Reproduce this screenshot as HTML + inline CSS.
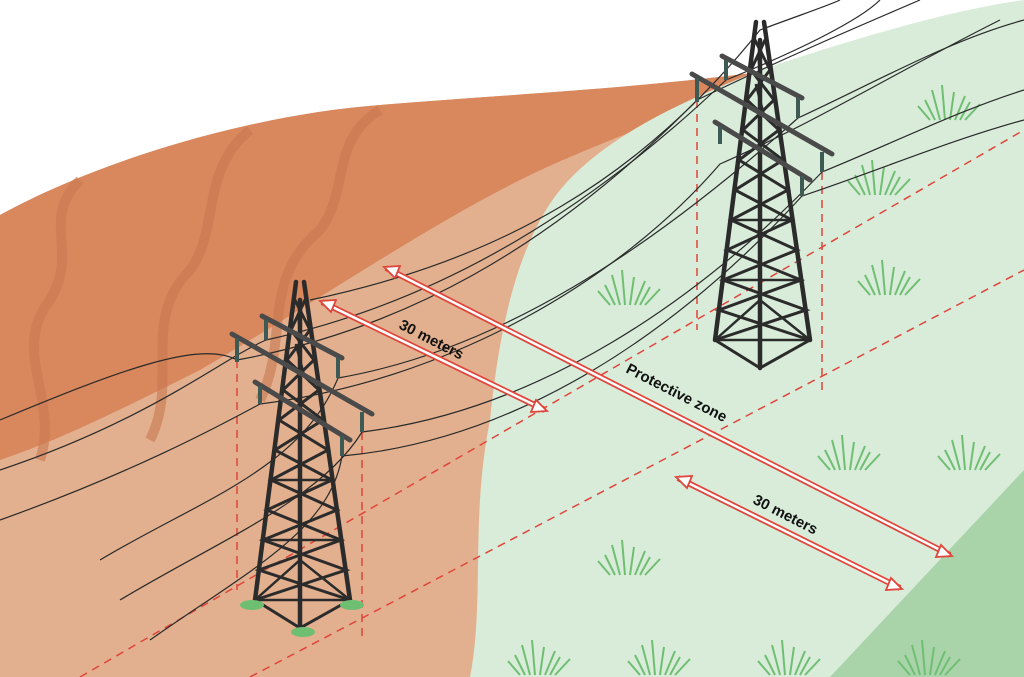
<!DOCTYPE html>
<html><head><meta charset="utf-8"><style>
html,body{margin:0;padding:0;background:#fff}
svg{display:block}
text{font-family:"Liberation Sans",sans-serif;font-weight:bold;font-size:15px;fill:#111}
</style></head><body>
<svg width="1024" height="677" viewBox="0 0 1024 677" xmlns="http://www.w3.org/2000/svg">
<defs>
<g id="tower">
 <g stroke="#2b2b2b" fill="none" stroke-linecap="round">
  <path d="M296,282 L255,600 M304,282 L350,600 M300,300 L300,628" stroke-width="4.5"/>
  <path d="M255,600 L300,628 L350,600" stroke-width="3"/>
  <path d="M295,300 L310,330 L287,360 L319,390 L279,420 L328,450 L271,480 L337,510 L263,540 L346,570 L255,600 M305,300 L291,330 L314,360 L283,390 L323,420 L275,450 L332,480 L267,510 L341,540 L259,570 L350,600" stroke-width="3"/>
  <path d="M300,480 L271,480 M300,480 L332,480 M300,540 L263,540 M300,540 L341,540 M300,600 L255,600 M300,600 L350,600 M255,600 L300,560 L350,600 M298,315 L302,345 M296,345 L304,375" stroke-width="2.5"/>
  <path d="M262,316 L342,358 M232,334 L372,414 M255,382 L350,440" stroke="#4a4a4a" stroke-width="5"/>
 </g>
 <g stroke="#3d5a55" stroke-width="4">
  <path d="M266,320 V340 M237,338 V362 M338,358 V378 M362,412 V432 M260,386 V404 M342,436 V456"/>
 </g>
</g>
<g id="grass" stroke="#6fbf73" stroke-width="2" fill="none">
 <path d="M0,30 L-8,0 M5,30 L2,-5 M10,30 L14,2 M15,30 L25,6 M20,30 L30,12 M-5,30 L-15,10 M25,30 L40,14 M-10,30 L-22,16"/>
</g>
</defs>
<rect width="1024" height="677" fill="#fff"/>
<!-- tan base -->
<path d="M0,215 C100,160 250,115 380,105 C500,95 620,90 760,72 L800,677 L0,677 Z" fill="#e2b08e"/>
<!-- orange -->
<path d="M0,215 C100,160 250,115 380,105 C500,95 620,90 760,72 C700,110 600,140 520,180 C420,230 320,300 200,370 C120,410 60,440 0,460 Z" fill="#d9875d"/>
<g fill="none" stroke="#c97850" stroke-width="10" opacity="0.6">
 <path d="M40,460 C60,400 10,350 50,300 C80,250 40,220 80,180"/>
 <path d="M150,440 C180,380 140,320 190,270 C220,230 200,170 250,130"/>
 <path d="M260,400 C290,340 260,280 320,230 C350,190 330,140 380,110"/>
</g>
<!-- green -->
<path d="M760,70 C850,40 950,10 1024,0 L1024,677 L470,677 C485,600 470,520 490,420 C500,320 520,240 560,190 C610,130 700,95 760,70 Z" fill="#d8ecd9"/>
<path d="M830,677 L1024,470 L1024,677 Z" fill="#a9d4a9"/>
<!-- grass -->
<use href="#grass" x="620" y="275"/><use href="#grass" x="880" y="265"/><use href="#grass" x="870" y="165"/>
<use href="#grass" x="940" y="90"/><use href="#grass" x="840" y="440"/><use href="#grass" x="960" y="440"/>
<use href="#grass" x="620" y="545"/><use href="#grass" x="530" y="645"/><use href="#grass" x="650" y="645"/><use href="#grass" x="780" y="645"/><use href="#grass" x="920" y="645"/>
<!-- red dashed -->
<g stroke="#e0453b" stroke-width="1.5" stroke-dasharray="8,6" fill="none">
 <path d="M80,677 L1024,130"/>
 <path d="M250,677 L1024,270"/>
 <path d="M237,360 V590 M362,432 V640 M697,100 V330 M822,172 V390"/>
</g>
<!-- wires -->
<g stroke="#2a2a2a" stroke-width="1.2" fill="none">
 <path d="M0,420 C120,370 200,340 237,360 C400,330 550,250 697,100 C780,60 850,30 920,0"/>
 <path d="M0,470 C150,420 220,360 266,340 C450,300 600,200 726,80 C800,50 860,20 880,0"/>
 <path d="M0,520 C140,470 230,420 260,404 C450,380 620,280 720,164 C820,120 900,70 1000,20"/>
 <path d="M100,560 C200,500 300,470 338,378 C500,350 650,250 798,118 C880,80 950,40 1024,20"/>
 <path d="M120,600 C220,540 320,500 362,432 C540,410 700,300 822,172 C900,140 960,110 1024,90"/>
 <path d="M150,640 C250,570 330,530 342,456 C520,440 680,330 802,196 C880,170 950,140 1024,120"/>
 <path d="M310,300 C500,260 640,180 760,30 C800,15 830,5 840,0"/>
</g>
<use href="#tower"/>
<use href="#tower" transform="translate(460,-260)"/>
<g fill="#6fbf73"><ellipse cx="252" cy="605" rx="12" ry="5"/><ellipse cx="352" cy="605" rx="12" ry="5"/><ellipse cx="303" cy="632" rx="12" ry="5"/></g>
<!-- arrows -->
<g stroke="#e0453b" stroke-width="1.8" fill="#fff">
 <path d="M322,302 L545,410" stroke-width="6"/><path d="M322,302 L545,410" stroke="#fff" stroke-width="2.5"/>
 <path d="M386,268 L950,555" stroke-width="6"/><path d="M386,268 L950,555" stroke="#fff" stroke-width="2.5"/>
 <path d="M678,478 L900,588" stroke-width="6"/><path d="M678,478 L900,588" stroke="#fff" stroke-width="2.5"/>
 <path d="M320,301 L336,300 L331,312 Z M547,411 L531,412 L536,400 Z M384,267 L400,266 L395,278 Z M952,556 L936,557 L941,545 Z M676,477 L692,476 L687,488 Z M902,589 L886,590 L891,578 Z"/>
</g>
<text transform="translate(398,328) rotate(27)">30 meters</text>
<text transform="translate(625,372) rotate(27)">Protective zone</text>
<text transform="translate(752,503) rotate(27)">30 meters</text>
</svg>
</body></html>
